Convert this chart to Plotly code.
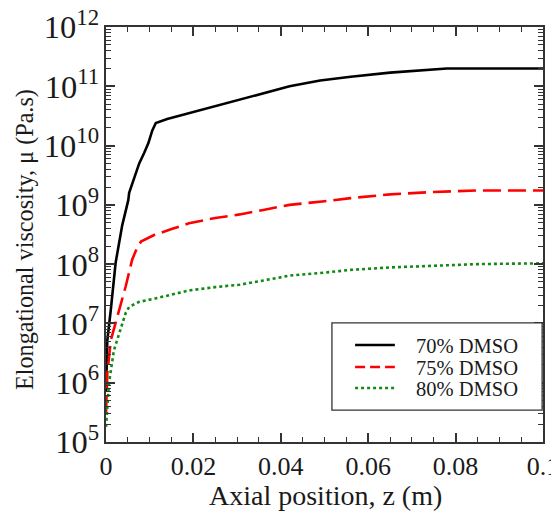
import plotly.graph_objects as go

# 70% DMSO
z70 = [0.0, 0.0003, 0.0011, 0.0022, 0.0037, 0.0051, 0.0053, 0.0065, 0.0076, 0.0087, 0.0097, 0.0106, 0.0114,
       0.014, 0.019, 0.025, 0.0306, 0.036, 0.042, 0.049, 0.056, 0.065, 0.074, 0.078, 0.085, 0.093, 0.1]
mu70 = [7e5, 5.2e6, 1.7e7, 1.05e8, 4.5e8, 1.2e9, 1.6e9, 2.8e9, 5.0e9, 7.4e9, 1.1e10, 1.8e10, 2.4e10,
        2.8e10, 3.5e10, 4.6e10, 5.9e10, 7.5e10, 1.0e11, 1.25e11, 1.45e11, 1.7e11, 1.9e11, 2.0e11, 2.0e11, 2.0e11, 2.0e11]
# 75% DMSO
z75 = [0.0, 0.0003, 0.0011, 0.0026, 0.0045, 0.006, 0.007, 0.008, 0.011, 0.015, 0.019, 0.025, 0.0306,
       0.036, 0.042, 0.05, 0.056, 0.065, 0.075, 0.085, 0.093, 0.1]
mu75 = [3.0e5, 1.45e6, 5.2e6, 1.3e7, 4.2e7, 1.2e8, 1.8e8, 2.4e8, 3.1e8, 3.9e8, 4.9e8, 6.0e8, 6.9e8,
        8.2e8, 1.0e9, 1.15e9, 1.3e9, 1.5e9, 1.65e9, 1.75e9, 1.75e9, 1.75e9]
# 80% DMSO
z80 = [0.0, 0.0007, 0.0018, 0.003, 0.0038, 0.0045, 0.0053, 0.0075, 0.0114, 0.015, 0.019, 0.025, 0.0306,
       0.036, 0.042, 0.05, 0.056, 0.065, 0.075, 0.085, 0.093, 0.1]
mu80 = [1.8e5, 1.0e6, 3.5e6, 6.9e6, 1.1e7, 1.5e7, 1.9e7, 2.3e7, 2.65e7, 3.1e7, 3.6e7, 4.1e7, 4.5e7,
        5.3e7, 6.4e7, 7.2e7, 8.0e7, 8.8e7, 9.5e7, 1.0e8, 1.02e8, 1.03e8]

names = ["70% DMSO", "75% DMSO", "80% DMSO"]
colors = ["black", "#ff0000", "#118a11"]
dashes = ["solid", "18px,7px", "3px,3px"]
legend_dashes = ["solid", "10px,5px", "3px,3px"]

font = "Liberation Serif, Times New Roman, serif"
txt = "#1a1a1a"

fig = go.Figure()
for zz, mm, n, c, d in zip([z70, z75, z80], [mu70, mu75, mu80], names, colors, dashes):
    fig.add_trace(go.Scatter(x=zz, y=mm, mode="lines", name=n, showlegend=False,
                             line=dict(color=c, width=2.6, dash=d)))

# manual legend (box, samples, labels) in paper coordinates
shapes = [dict(type="rect", xref="paper", yref="paper", x0=0.517, x1=0.998, y0=0.077, y1=0.287,
               line=dict(color="#333", width=1.3), fillcolor="white", layer="above")]
annotations = []
rows = [0.2337, 0.1807, 0.1301]
for n, c, d, yy in zip(names, colors, legend_dashes, rows):
    shapes.append(dict(type="line", xref="paper", yref="paper", x0=0.570, x1=0.661, y0=yy, y1=yy,
                       line=dict(color=c, width=2.6, dash=d), layer="above"))
    annotations.append(dict(text=n, xref="paper", yref="paper", x=0.705, y=yy, xanchor="left",
                            yanchor="middle", showarrow=False, height=21,
                            font=dict(family=font, size=20.5, color=txt)))

# axis titles as annotations
annotations.append(dict(text="Elongational viscosity, μ (Pa.s)", xref="paper", yref="paper",
                        x=-0.185, y=0.487, xanchor="center", yanchor="middle", textangle=-90,
                        showarrow=False, font=dict(family=font, size=24.2, color=txt)))
annotations.append(dict(text="Axial position, z (m)", xref="paper", yref="paper",
                        x=0.502, y=-0.128, xanchor="center", yanchor="middle",
                        showarrow=False, font=dict(family=font, size=28, color=txt)))

# page body adds an 8px offset, so the figure is 8px smaller than the window
fig.update_layout(
    width=551, height=514,
    margin=dict(l=98, r=16, t=19, b=80),
    paper_bgcolor="white", plot_bgcolor="white",
    font=dict(family=font, size=26, color=txt),
    showlegend=False,
    shapes=shapes, annotations=annotations,
)
fig.update_xaxes(
    range=[-1e-7, 0.1 + 1e-7], tickvals=[0, 0.02, 0.04, 0.06, 0.08, 0.1],
    ticktext=["0", "0.02", "0.04", "0.06", "0.08", "0.1"], automargin=False,
    ticklabeloverflow="allow",
    showline=True, linecolor="#333", linewidth=1.5, mirror="ticks",
    ticks="inside", ticklen=9, tickwidth=1.5, tickcolor="#333",
    minor=dict(dtick=0.005, tick0=0, ticks="inside", ticklen=5, tickwidth=1.2, tickcolor="#333", showgrid=False),
    showgrid=False, zeroline=False,
    tickfont=dict(size=26),
)
fig.update_yaxes(
    type="log", range=[5 - 1e-6, 12 + 1e-6], dtick=1, exponentformat="power", showexponent="all",
    automargin=False, ticklabeloverflow="allow",
    showline=True, linecolor="#333", linewidth=1.5, mirror="ticks",
    ticks="inside", ticklen=9, tickwidth=1.5, tickcolor="#333",
    minor=dict(dtick="D1", ticks="inside", ticklen=5, tickwidth=1.2, tickcolor="#333", showgrid=False),
    showgrid=False, zeroline=False,
    tickfont=dict(size=26),
)
fig.write_html("out.html")
